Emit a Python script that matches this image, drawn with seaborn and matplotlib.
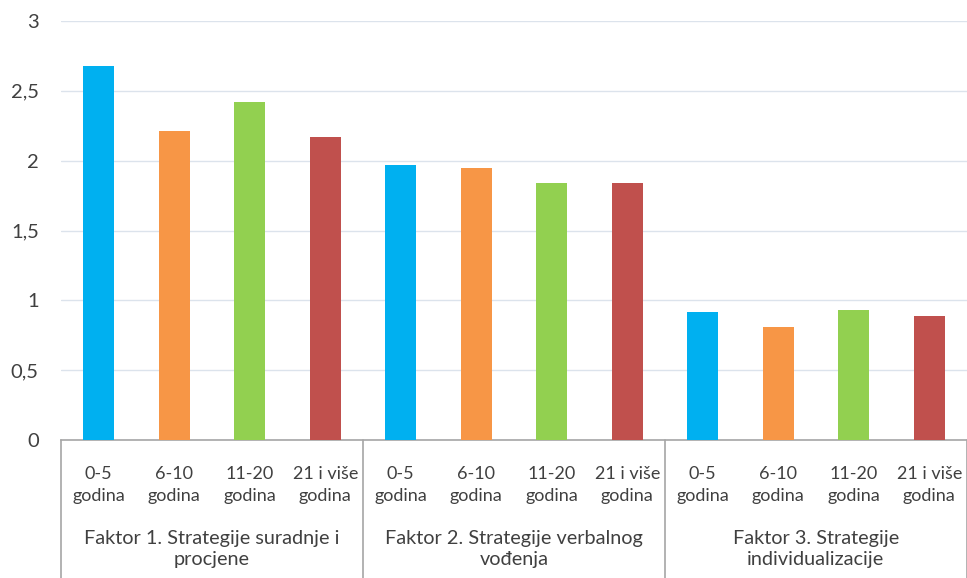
import matplotlib
matplotlib.use("Agg")
import matplotlib.pyplot as plt
import matplotlib.transforms as mtransforms
import seaborn as sns
import pandas as pd

# ---- data ----
factors = [
    "Faktor 1. Strategije suradnje i\nprocjene",
    "Faktor 2. Strategije verbalnog\nvođenja",
    "Faktor 3. Strategije\nindividualizacije",
]
ages = ["0-5\ngodina", "6-10\ngodina", "11-20\ngodina", "21 i više\ngodina"]
f1_values = [2.68, 2.21, 2.42, 2.17]
f2_values = [1.97, 1.95, 1.84, 1.84]
f3_values = [0.92, 0.81, 0.93, 0.89]
yticks = [0, 0.5, 1, 1.5, 2, 2.5, 3]
ytick_labels = ["0", "0,5", "1", "1,5", "2", "2,5", "3"]
colors = ["#00B0F0", "#F79646", "#92D050", "#C0504D"]

rows = []
for fi, vals in enumerate([f1_values, f2_values, f3_values]):
    for ai, v in enumerate(vals):
        rows.append({"slot": f"{fi}-{ai}", "factor": factors[fi],
                     "age": ages[ai], "value": v})
df = pd.DataFrame(rows)

sns.set_theme(style="white")
plt.rcParams["font.family"] = ["Lato", "DejaVu Sans"]
text_color = "#404040"

fig = plt.figure(figsize=(9.67, 5.78), dpi=100)
ax = fig.add_axes([61 / 967, 1 - 440 / 578, 1 - 61 / 967, 419 / 578])

sns.barplot(data=df, x="slot", y="value", hue="age", palette=colors,
            dodge=False, width=0.41, legend=False, ax=ax, saturation=1,
            edgecolor="none", zorder=3)

ax.set_ylim(0, 3)
ax.set_xlim(-0.5, len(df) - 0.5)
ax.set_yticks(yticks)
ax.set_yticklabels(ytick_labels, fontsize=14.5, color=text_color)
ax.yaxis.grid(True, color="#DCE3EC", linewidth=1.0, zorder=0)
ax.xaxis.grid(False)
for s in ["top", "right", "left"]:
    ax.spines[s].set_visible(False)
ax.spines["bottom"].set_color("#A6A6A6")
ax.spines["bottom"].set_linewidth(1.2)
ax.tick_params(axis="y", length=0, pad=16)
ax.tick_params(axis="x", length=0, pad=19)
ax.set_xticks(range(len(df)))
ax.set_xticklabels(list(df["age"]), fontsize=13, color=text_color,
                   linespacing=1.4)
ax.set_xlabel("")
ax.set_ylabel("")

# group separators and group labels
trans = mtransforms.blended_transform_factory(ax.transData, ax.transAxes)
n_per = len(ages)
for g in range(len(factors) + 1):
    xsep = g * n_per - 0.5
    ax.plot([xsep, xsep], [0, -0.34], transform=trans, color="#A6A6A6",
            linewidth=1.2, clip_on=False)
for g, name in enumerate(factors):
    xc = g * n_per + (n_per - 1) / 2
    ax.text(xc, -0.215, name, transform=trans, ha="center", va="top",
            fontsize=14.3, color=text_color, linespacing=1.3)

fig.savefig("out.png", dpi=100, facecolor="white")
